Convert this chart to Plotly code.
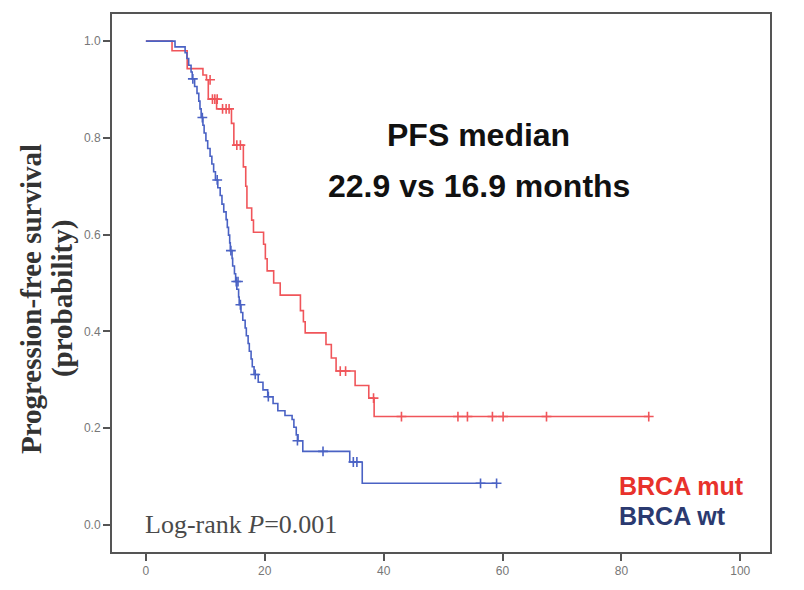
import plotly.graph_objects as go

# Kaplan-Meier step data (months, survival probability after each event)
mut_times = [0, 4.4, 6.95, 9.6, 10.2, 10.5, 11.9, 14.4, 14.8, 16.4, 16.8, 17.0,
             17.8, 18.1, 19.8, 20.1, 20.4, 21.5, 22.6, 26.0, 26.5, 26.8,
             30.3, 31.2, 32.0, 35.2, 37.5, 38.4, 84.8]
mut_surv = [1.0, 0.98, 0.943, 0.93, 0.92, 0.88, 0.86, 0.83, 0.785, 0.74, 0.70, 0.655,
            0.63, 0.605, 0.58, 0.55, 0.525, 0.50, 0.475, 0.443, 0.42, 0.397,
            0.373, 0.345, 0.318, 0.288, 0.262, 0.224, 0.224]
mut_cens_t = [10.8, 11.2, 11.6, 12.0, 12.9, 13.5, 14.0, 15.3, 15.9, 32.7, 33.6, 38.3,
              43.0, 52.5, 54.1, 58.3, 60.1, 67.4, 84.6]
mut_cens_s = [0.92, 0.88, 0.88, 0.88, 0.86, 0.86, 0.86, 0.785, 0.785, 0.318, 0.318, 0.262,
              0.224, 0.224, 0.224, 0.224, 0.224, 0.224, 0.224]

wt_times = [0, 4.9, 6.6, 6.9, 7.2, 7.6, 7.8, 8.2, 8.6, 8.9, 9.1, 9.3, 9.6, 9.8,
            10.1, 10.4, 10.8, 11.1, 11.4, 11.7, 12.1, 12.5, 12.8, 13.1, 13.5,
            13.7, 13.9, 14.1, 14.2, 14.5, 14.6, 14.9, 15.1, 15.3, 15.6, 15.7,
            16.0, 16.3, 16.7, 16.9, 17.2, 17.4, 17.7, 17.9, 18.2, 18.9, 19.7,
            20.5, 21.4, 22.2, 23.4, 24.6, 24.9, 25.3, 25.6, 26.4, 34.3, 36.4, 59.0]
wt_surv = [1.0, 0.988, 0.976, 0.964, 0.95, 0.936, 0.922, 0.906, 0.892, 0.876, 0.86,
           0.842, 0.826, 0.81, 0.794, 0.778, 0.762, 0.746, 0.73, 0.713, 0.697,
           0.681, 0.663, 0.647, 0.631, 0.615, 0.599, 0.583, 0.567, 0.551, 0.535,
           0.519, 0.503, 0.487, 0.471, 0.455, 0.439, 0.423, 0.407, 0.391, 0.375,
           0.359, 0.343, 0.327, 0.311, 0.295, 0.279, 0.265, 0.251, 0.236, 0.226,
           0.218, 0.202, 0.186, 0.174, 0.152, 0.13, 0.086, 0.086]
wt_cens_t = [7.9, 9.5, 12.0, 14.3, 15.2, 15.5, 15.9, 18.4, 20.6, 25.5, 29.8, 34.9, 35.5, 56.3, 59.0]
wt_cens_s = [0.922, 0.842, 0.713, 0.567, 0.503, 0.503, 0.455, 0.311, 0.265, 0.174, 0.152,
             0.13, 0.13, 0.086, 0.086]

x_ticks = [0, 20, 40, 60, 80, 100]
y_ticks = [0.0, 0.2, 0.4, 0.6, 0.8, 1.0]

RED = "#f0555a"
BLUE = "#4a62c4"
SANS = "Liberation Sans, Arial"
PLOT_W = 804 - 112 - 34
PLOT_H = 590 - 12 - 25

fig = go.Figure()
for t, s, ct, cs, col in [(mut_times, mut_surv, mut_cens_t, mut_cens_s, RED),
                          (wt_times, wt_surv, wt_cens_t, wt_cens_s, BLUE)]:
    fig.add_trace(go.Scatter(x=t, y=s, mode="lines", line=dict(shape="hv", color=col, width=1.6),
                             showlegend=False, hoverinfo="skip"))
    fig.add_trace(go.Scatter(x=ct, y=cs, mode="markers",
                             marker=dict(symbol="cross-thin", size=7, line=dict(color=col, width=1.6)),
                             showlegend=False, hoverinfo="skip"))

axis_common = dict(showgrid=False, zeroline=False, showline=True, mirror=True,
                   linecolor="#555555", linewidth=2, ticks="outside", ticklen=7,
                   tickwidth=1.5, tickcolor="#555555",
                   tickfont=dict(family=SANS, size=12, color="#777777"))

fig.update_layout(
    width=804, height=590,
    margin=dict(l=112, r=34, t=12, b=25),
    paper_bgcolor="white", plot_bgcolor="white",
    xaxis=dict(range=[-5.7, 105], tickvals=x_ticks, ticktext=[str(v) for v in x_ticks], **axis_common),
    yaxis=dict(range=[-0.056, 1.056], tickvals=y_ticks, ticktext=[f"{v:.1f}" for v in y_ticks], **axis_common),
)

# Two-line rotated axis title, one annotation per line for tighter spacing
for label, px in [("<b>Progression-free survival</b>", 31), ("<b>(probability)</b>", 62)]:
    fig.add_annotation(xref="paper", yref="paper", x=(px - 112) / PLOT_W, y=(565 - 305) / PLOT_H,
                       xanchor="center", yanchor="middle", textangle=-90,
                       text=label, showarrow=False,
                       font=dict(family="Liberation Serif", size=29, color="#333333"))

fig.add_annotation(x=56, y=0.805, text="<b>PFS median</b>", showarrow=False,
                   font=dict(family=SANS, size=32, color="#111111"))
fig.add_annotation(x=56, y=0.70, text="<b>22.9 vs 16.9 months</b>", showarrow=False,
                   font=dict(family=SANS, size=32, color="#111111"))
fig.add_annotation(x=-0.5, y=0.0, xanchor="left", text="Log-rank <i>P</i>=0.001", showarrow=False,
                   font=dict(family="Liberation Serif", size=26, color="#4a4a4a"))
fig.add_annotation(x=79.3, y=0.08, xanchor="left", text="<b>BRCA mut</b>", showarrow=False,
                   font=dict(family=SANS, size=25, color="#e8322c"))
fig.add_annotation(x=79.3, y=0.018, xanchor="left", text="<b>BRCA wt</b>", showarrow=False,
                   font=dict(family=SANS, size=25, color="#2b3a70"))

fig.write_html("out.html")
